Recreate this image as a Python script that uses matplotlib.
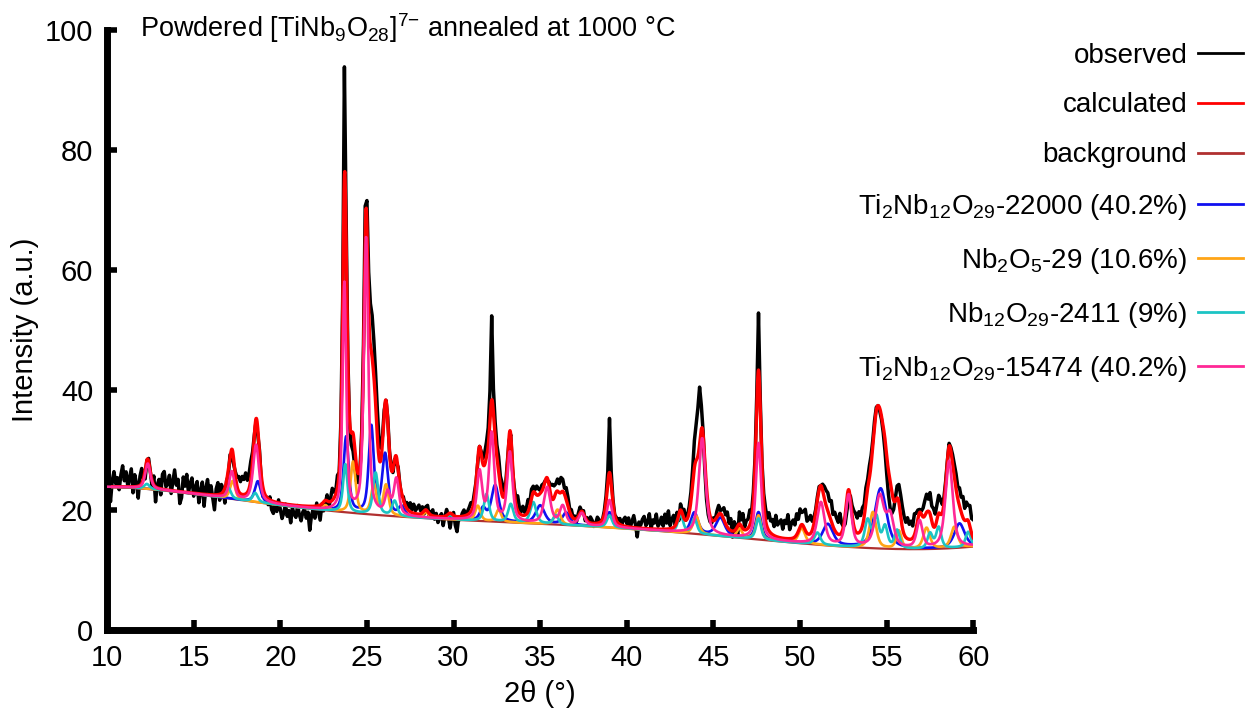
import numpy as np
import matplotlib.pyplot as plt

plt.rcParams['font.family'] = ['Liberation Sans', 'DejaVu Sans']
plt.rcParams['mathtext.default'] = 'regular'

# refined background (2theta, intensity)
bg_tt = [10, 12, 14, 16, 17, 20, 24, 30, 35, 40, 45, 50, 55, 57, 60]
bg_int = [23.5, 24.3, 23.1, 22.2, 21.6, 20.5, 20.0, 18.5, 17.6, 16.7, 15.8, 14.7, 13.5, 13.3, 14.0]

# phase reflections: position, height above background, fwhm
pink_pos = [12.35, 17.2, 18.6, 23.7, 24.95, 26.2, 26.7, 31.5, 32.2, 33.25, 35.4, 36.3, 37.4,
            39.0, 44.35, 47.6, 51.2, 52.8, 54.6, 55.2, 56.9, 58.6]
pink_h = [4.2, 4.5, 9.5, 38.0, 46.0, 3.5, 6.0, 8.0, 14.5, 11.5, 6.0, 3.0, 2.0,
          4.5, 16.0, 16.0, 7.0, 8.5, 8.5, 5.0, 4.5, 14.5]
pink_w = [0.35, 0.35, 0.4, 0.25, 0.3, 0.35, 0.35, 0.35, 0.35, 0.35, 0.45, 0.4, 0.4,
          0.35, 0.45, 0.35, 0.5, 0.4, 0.6, 0.5, 0.4, 0.5]

blue_pos = [18.7, 23.8, 25.25, 26.05, 27.0, 31.7, 32.4, 35.0, 36.5, 39.0, 43.9, 45.4, 47.6,
            51.6, 54.65, 59.2]
blue_h = [3.5, 12.5, 14.5, 10.0, 1.5, 2.0, 6.0, 3.0, 2.0, 2.5, 3.5, 3.0, 4.5,
          3.5, 10.0, 4.0]
blue_w = [0.4, 0.35, 0.35, 0.4, 0.4, 0.4, 0.5, 0.6, 0.5, 0.4, 0.5, 0.6, 0.4,
          0.7, 0.8, 0.7]

cyan_pos = [12.3, 17.0, 18.55, 23.75, 25.5, 26.6, 29.8, 31.9, 33.3, 34.6, 35.9, 39.0, 43.1,
            43.9, 47.6, 51.0, 53.9, 54.4, 54.9, 55.6, 57.5, 58.0, 59.7]
cyan_h = [0.8, 1.8, 1.5, 8.0, 7.0, 2.5, 0.7, 4.5, 3.0, 3.5, 1.5, 2.0, 3.0,
          2.5, 3.5, 2.0, 4.5, 5.0, 3.5, 3.0, 2.5, 3.5, 2.5]
cyan_w = [0.35, 0.35, 0.35, 0.3, 0.35, 0.35, 0.35, 0.35, 0.35, 0.4, 0.35, 0.35, 0.35,
          0.35, 0.35, 0.4, 0.4, 0.35, 0.35, 0.35, 0.35, 0.35, 0.35]

orange_pos = [17.25, 22.6, 24.2, 25.4, 26.1, 28.4, 31.4, 32.6, 36.0, 44.0, 46.5, 47.6, 50.1,
              54.2, 55.7, 57.3, 58.9]
orange_h = [3.0, 0.8, 8.5, 5.0, 5.0, 1.0, 2.5, 2.0, 2.5, 3.0, 1.5, 4.0, 2.5,
            6.0, 3.0, 3.5, 3.5]
orange_w = [0.35, 0.35, 0.35, 0.35, 0.35, 0.35, 0.35, 0.35, 0.4, 0.4, 0.35, 0.35, 0.45,
            0.45, 0.35, 0.45, 0.45]

# observed minus calculated, 10.0 to 60.0 in 0.1 deg steps
obs_diff = [
    -1.5, 0.5, -2.5, 1.0, 2.5, 0.5, 1.5, -0.5, 2.0, 3.5,
    1.0, 2.5, 0.0, 1.5, 3.0, -1.0, 2.0, 0.5, -2.0, 1.5,
    2.5, 0.0, -1.5, 0.0, 0.5, 0.0, -1.0, 1.5, -2.5, 0.5,
    1.5, -1.0, 2.5, 3.0, 0.5, 1.0, 2.5, -0.5, 1.5, 3.5,
    1.0, 2.0, -2.0, -1.0, 2.5, 1.0, 3.0, 0.0, 1.5, 2.5,
    -0.5, 1.0, 2.0, -1.5, 0.5, 2.0, -2.0, 1.0, 2.5, 0.0,
    1.5, -0.5, -2.5, 1.0, 2.0, -1.0, 1.5, 0.5, -2.5, 0.0,
    -1.0, 0.5, -1.0, -1.0, 0.5, 1.5, 2.5, 2.0, 3.0, 2.5,
    3.5, 2.0, 2.5, 3.0, 1.5, 0.0, -0.5, -1.0, 0.5, -1.0,
    -1.5, -0.5, 0.0, -1.0, 0.5, -1.5, -2.0, -0.5, -1.5, 0.5,
    -1.0, -2.5, -1.5, 0.0, -2.0, -1.0, -3.0, -0.5, -1.5, -2.0,
    0.0, -1.5, -2.5, -1.0, -0.5, -2.0, -1.0, -4.0, -1.5, -0.5,
    -2.0, 0.5, -1.0, -2.5, 0.0, -1.5, -0.5, 1.0, -1.0, 0.5,
    2.0, 1.0, 0.5, 2.0, 0.0, 1.0, 1.5, 18.0, 4.0, 0.5,
    -1.0, -2.0, -3.0, -3.0, -2.5, -1.5, -0.5, 1.0, 2.0, 5.5,
    4.0, 6.0, 7.0, 7.0, 6.0, 5.0, 4.5, 3.0, 2.0, 1.0,
    0.5, 0.0, 0.5, 0.0, 0.5, -0.5, 0.0, -1.0, 0.5, 0.0,
    -0.5, 0.5, 0.0, 1.0, 0.5, 1.5, 0.5, 1.5, 0.5, 1.0,
    1.5, 0.5, 1.0, -0.5, 0.5, 1.0, -0.5, 0.5, 1.0, -0.5,
    0.5, -1.0, 0.0, 0.5, -1.5, 0.0, 1.0, -0.5, -2.5, -0.5,
    0.5, -1.5, -2.5, 0.0, -0.5, 0.5, 1.0, 0.0, 0.5, 1.0,
    1.5, 0.5, 1.0, 0.0, -0.5, 0.0, 0.5, 1.0, 2.0, 2.5,
    3.0, 5.0, 14.0, 4.0, 2.5, 2.0, 2.5, 1.5, 2.0, 1.0,
    0.5, 0.5, -0.5, 0.0, -1.0, 0.5, 1.0, 2.5, 1.0, 0.5,
    1.5, 0.5, 1.0, 2.0, 0.5, 1.5, 1.0, 0.5, 1.5, 1.0,
    0.5, 1.0, 0.5, 0.0, -0.5, 0.5, 1.5, 2.5, 2.0, 1.5,
    2.0, 1.5, 2.5, 2.0, 1.0, 2.0, 1.5, 0.5, 1.0, 0.0,
    0.5, -0.5, 0.5, 1.0, 0.0, 0.5, -0.5, 0.5, 0.0, 1.0,
    0.5, -0.5, 0.0, 1.0, 0.5, -0.5, 0.0, 0.5, 1.0, 2.0,
    9.0, 2.0, 0.5, 0.0, 0.5, 0.5, 1.0, 0.0, 1.0, 1.5,
    0.5, 1.5, 0.0, 1.0, 2.0, 0.5, -1.5, 1.0, 0.5, 1.5,
    2.0, 0.5, 1.0, 2.5, 0.0, 1.5, 1.0, 2.5, 0.5, 1.0,
    2.0, 0.5, 2.5, 1.0, 3.0, 0.5, 1.5, 2.0, 0.0, 1.5,
    -1.0, 1.0, 0.5, 1.5, 0.0, 0.5, 1.0, 1.5, 2.5, 4.5,
    6.0, 8.0, 9.5, 4.0, 0.5, -1.5, -2.0, -1.5, -1.0, -0.5,
    0.5, 0.0, 1.0, 1.5, 0.5, 1.0, 2.0, 1.5, 2.5, 1.0,
    2.0, -1.0, 1.5, 0.5, -1.5, 2.0, 1.0, 2.5, 0.5, 1.5,
    1.5, 2.5, 1.0, 1.5, 1.0, 2.0, 9.5, 1.5, 0.5, 1.5,
    2.0, 1.5, 3.0, 2.0, 2.5, 1.5, 3.5, 2.0, 2.5, 3.0,
    1.5, 3.0, 2.5, 4.0, 1.5, 2.5, 3.0, 2.0, 3.5, 2.0,
    3.0, 2.0, 2.5, 3.5, 2.0, 2.5, 3.0, 1.5, 1.0, 0.5,
    0.5, 0.5, 0.0, 1.0, 2.0, 2.5, 3.0, 2.5, 3.5, 2.0,
    3.0, 2.5, 2.0, 3.5, 1.5, 0.0, -1.5, -2.0, -1.5, 0.5,
    1.5, 2.5, 3.0, 2.5, 3.5, 2.5, 3.0, 2.0, 2.5, 1.5,
    2.0, 1.5, 1.0, 1.0, 0.5, 0.0, -0.5, -0.5, -1.0, -2.0,
    -3.0, -4.0, -4.5, -3.5, -1.5, 0.5, 2.0, 3.0, 3.5, 3.5,
    3.0, 2.5, 3.5, 2.5, 3.0, 2.0, 3.5, 2.5, 1.5, 0.5,
    0.5, 1.5, 2.5, 3.0, 2.0, 3.5, 2.5, 3.0, 2.0, 2.5,
    3.0, 2.5, 1.5, 1.0, 0.5, 0.0, 0.5, 0.5, 1.5, 2.0,
    2.5, 2.0, 3.0, 2.5, 3.5, 2.0, 3.0, 2.5, 3.5, 2.5,
    3.0,
]


def pvoigt(x, pos, h, w, eta=0.6):
    x = np.asarray(x)[:, None]
    pos, h, w = np.asarray(pos), np.asarray(h), np.asarray(w)
    d = (x - pos) / (w / 2)
    lor = 1 / (1 + d ** 2)
    gau = np.exp(-np.log(2) * d ** 2)
    return (h * (eta * lor + (1 - eta) * gau)).sum(axis=1)


bg_fit = np.polynomial.Chebyshev.fit(bg_tt, bg_int, 6)

phases = [
    ('Ti$_2$Nb$_{12}$O$_{29}$-22000 (40.2%)', blue_pos, blue_h, blue_w, '#1010f0'),
    ('Nb$_2$O$_5$-29 (10.6%)', orange_pos, orange_h, orange_w, '#ffa516'),
    ('Nb$_{12}$O$_{29}$-2411 (9%)', cyan_pos, cyan_h, cyan_w, '#1cc4c4'),
    ('Ti$_2$Nb$_{12}$O$_{29}$-15474 (40.2%)', pink_pos, pink_h, pink_w, '#ff2896'),
]


def calc(x):
    return bg_fit(x) + sum(pvoigt(x, p, h, w) for _, p, h, w, _ in phases)


tt = np.linspace(10, 60, 2501)
obs_tt = np.round(10 + 0.1 * np.arange(len(obs_diff)), 1)
obs = calc(obs_tt) + np.array(obs_diff)

fig = plt.figure(figsize=(12.49, 7.14), dpi=100)
ax = fig.add_axes([0.0857, 0.1176, 0.6936, 0.8404])

ax.plot(obs_tt, obs, color='black', lw=2.5, label='observed')
ax.plot(tt, calc(tt), color='#ff0000', lw=2.4, label='calculated', zorder=2.5)
ax.plot(tt, bg_fit(tt), color='#b03030', lw=1.6, label='background')
for name, p, h, w, c in phases:
    ax.plot(tt, bg_fit(tt) + pvoigt(tt, p, h, w), color=c, lw=1.9, label=name)
# main phase drawn over the calculated curve
ax.lines[-1].set_zorder(2.6)

ax.set_xlim(10, 60)
ax.set_ylim(0, 100)
ax.set_xticks(np.arange(10, 61, 5))
ax.set_yticks(np.arange(0, 101, 20))
for side in ['top', 'right']:
    ax.spines[side].set_visible(False)
for side in ['left', 'bottom']:
    ax.spines[side].set_linewidth(5)
ax.tick_params(direction='in', length=7, width=4, labelsize=21, pad=10)
ax.set_xlabel('2θ (°)', fontsize=21, labelpad=6)
ax.set_ylabel('Intensity (a.u.)', fontsize=21, labelpad=4)

ax.text(0.038, 1.003, 'Powdered [TiNb$_9$O$_{28}$]$^{7{-}}$ annealed at 1000 °C',
        transform=ax.transAxes, fontsize=19.5, va='center', ha='left')

leg = fig.legend(loc='upper right', bbox_to_anchor=(1.004, 0.956), frameon=False,
                 markerfirst=False, fontsize=20, handlelength=1.6, labelspacing=0.86,
                 handletextpad=0.4, borderaxespad=0)
for ln in leg.get_lines():
    ln.set_linewidth(2.0)

fig.savefig('out.png', dpi=100)
